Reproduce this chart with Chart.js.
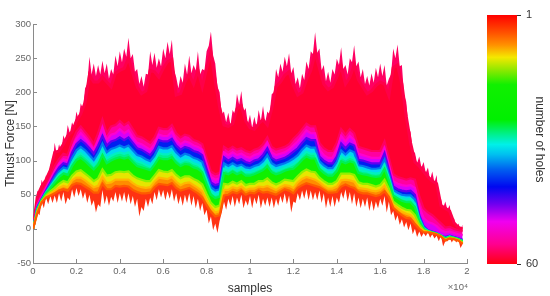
<!DOCTYPE html>
<html><head><meta charset="utf-8">
<script src="https://cdn.jsdelivr.net/npm/chart.js@4"></script>
<style>
html,body{margin:0;padding:0;background:#fff;width:550px;height:296px;overflow:hidden}
canvas{position:absolute;top:0;filter:blur(0.45px)}
#main{left:0}#bar{left:480px}
</style></head><body>
<canvas id="main" width="550" height="296"></canvas>
<canvas id="bar" width="70" height="296"></canvas>
<script>
const samples=[0,200,400,600,800,1000,1200,1400,1600,1800,2000,2200,2400,2600,2800,3000,3200,3400,3600,3800,4000,4200,4400,4600,4800,5000,5200,5400,5600,5800,6000,6200,6400,6600,6800,7000,7200,7400,7600,7800,8000,8200,8400,8600,8800,9000,9200,9400,9600,9800,10000,10200,10400,10600,10800,11000,11200,11400,11600,11800,12000,12200,12400,12600,12800,13000,13200,13400,13600,13800,14000,14200,14400,14600,14800,15000,15200,15400,15600,15800,16000,16200,16400,16600,16800,17000,17200,17400,17600,17800,18000,18200,18400,18600,18800,19000,19200,19400,19600,19800];
const redTop=[0,23,39,46,49,52,56,58,56,64,67,66,62,58,53,53,66,58,58,63,62,63,62,57,54,52,52,53,61,66,65,64,67,60,56,58,60,56,52,46,35,25,18,20,49,50,54,52,56,50,53,52,56,53,54,52,50,54,58,56,52,60,64,67,65,63,61,57,53,53,54,62,65,62,60,54,52,52,50,48,50,55,47,31,25,20,16,15,7,0,-5,-5,-6,-8,-11,-17,-14,-15,-17,-22];
const orangeTop=[0,25,40,47,52,56,60,63,61,71,75,75,71,66,61,63,76,67,68,72,72,72,72,67,63,61,60,61,69,75,74,73,76,69,64,67,68,64,60,55,42,31,24,26,57,57,61,59,62,57,59,59,62,61,63,60,57,61,64,63,60,68,73,76,74,72,68,63,59,59,62,71,72,71,69,60,59,58,56,55,57,63,52,35,30,25,22,20,13,2,-3,-5,-6,-8,-11,-16,-14,-15,-17,-21];
const yellowTop=[0,26,40,49,55,60,66,70,68,78,84,86,81,76,70,74,87,78,79,83,84,83,84,78,74,72,70,70,78,86,84,83,86,79,74,77,77,73,70,65,51,38,32,34,66,65,69,66,70,64,66,66,70,70,74,68,65,68,72,71,70,77,83,87,84,83,75,70,66,66,70,81,81,81,79,68,66,66,64,62,64,72,59,40,35,31,28,27,20,6,-2,-4,-6,-8,-11,-16,-13,-14,-16,-20];
const greenTop=[0,28,42,52,60,68,76,81,79,92,101,104,99,93,87,94,108,96,100,103,105,103,105,98,92,90,88,86,94,104,102,102,105,97,92,95,94,90,88,83,66,50,45,47,82,80,84,80,83,78,78,80,83,86,92,83,80,82,85,87,88,94,101,106,103,103,88,82,78,78,85,99,96,99,97,82,80,79,77,76,77,88,71,49,45,41,39,39,32,12,0,-4,-5,-7,-10,-14,-12,-13,-15,-18];
const springTop=[0,29,42,53,62,71,80,85,83,97,107,111,106,100,93,101,115,103,107,110,112,110,112,105,99,97,94,91,99,111,109,109,112,103,98,101,100,96,94,89,72,55,50,52,88,85,89,85,88,83,83,85,88,91,99,88,85,87,90,92,95,100,107,113,110,110,92,87,83,83,90,106,102,106,103,87,85,84,82,81,82,94,75,53,48,45,43,44,37,14,1,-3,-5,-7,-10,-14,-11,-13,-15,-18];
const cyanTop=[0,31,43,54,65,75,84,90,88,104,115,120,115,108,101,111,125,112,117,119,122,119,122,115,108,106,102,99,107,120,118,118,121,112,106,110,108,104,102,98,79,61,56,58,96,92,96,92,94,90,89,92,94,99,108,96,92,94,96,99,103,108,116,122,119,119,99,93,89,89,98,115,109,115,112,93,92,90,88,88,89,102,80,57,53,50,49,49,43,17,3,-3,-5,-7,-10,-13,-11,-13,-15,-17];
const blueTop=[0,32,44,56,68,80,90,96,94,112,124,130,125,118,110,122,136,122,128,130,134,130,134,126,118,116,112,108,116,130,128,128,132,122,116,120,118,114,112,108,88,68,64,66,105,100,104,100,102,98,96,100,102,108,118,104,100,102,104,108,113,118,126,133,130,130,106,100,96,96,106,125,118,125,122,101,100,98,96,96,96,111,87,62,58,56,55,56,50,20,4,-2,-4,-6,-10,-12,-10,-12,-14,-16];
const magentaTop=[0,35,48,60,72,85,95,102,100,118,132,140,133,125,116,130,148,130,138,140,146,140,144,134,126,124,120,116,124,138,136,136,142,130,124,128,126,122,120,116,96,76,72,74,112,108,112,108,110,106,104,108,110,116,126,112,108,110,112,116,122,128,136,144,140,140,116,108,104,104,116,136,128,136,130,110,108,106,104,104,104,118,94,70,66,64,63,64,60,32,16,10,8,4,-2,-5,-4,-6,-8,-9];
const pinkTop=[0,38,52,64,76,92,102,110,108,128,142,150,142,134,124,140,160,140,150,152,158,152,156,146,136,134,130,126,134,148,146,146,152,140,134,138,136,130,128,124,104,84,80,82,120,116,120,116,118,114,112,116,118,124,134,120,116,118,120,124,132,138,146,154,150,150,126,118,114,114,126,146,138,146,140,120,118,116,114,114,114,128,104,80,76,74,72,74,72,48,30,24,20,14,8,2,3,0,-2,-3];
const crimsonTop=[0,48,62,72,86,112,114,124,136,142,158,168,185,225,215,215,222,215,208,228,232,235,250,228,208,198,202,232,230,222,235,245,248,196,198,215,226,212,232,208,235,258,216,178,152,150,154,176,180,158,148,146,154,160,152,176,208,215,225,230,210,196,200,218,232,258,235,212,204,208,222,238,212,222,240,218,208,198,202,210,215,212,195,236,240,212,165,126,98,92,84,76,70,66,34,30,26,9,2,0];
// spiky outer edges, read every 100 samples
const spikeTop=[0,20,56,50,72,62,79,70,94,96,126,108,124,114,137,128,152,140,156,148,
172,160,184,176,206,212,252,226,242,224,240,226,246,228,242,220,234,226,254,238,
260,244,264,252,280,250,256,230,234,212,224,208,227,226,260,240,258,236,250,238,
264,250,274,256,277,232,222,206,224,214,242,226,254,228,240,232,260,226,234,232,
260,268,289,254,242,208,200,168,172,156,170,152,174,168,198,182,202,172,177,154,
167,148,164,150,174,158,180,156,172,168,197,200,234,222,242,230,252,238,257,228,
237,212,222,206,227,218,245,234,260,256,288,258,264,232,240,216,230,214,234,226,
249,240,266,234,240,226,250,244,269,238,245,222,234,212,224,210,228,214,236,222,
242,224,240,210,220,226,264,250,270,238,240,196,186,148,142,112,112,96,106,90,
98,82,90,72,84,68,79,44,44,30,40,28,35,12,16,2,8,0,6];
const spikeBottom=[0,6,24,20,40,30,46,36,48,38,49,38,52,40,54,36,46,42,58,46,
60,48,58,44,54,38,50,34,42,24,36,32,57,36,49,34,47,40,54,38,
52,40,54,38,52,36,48,32,44,18,32,26,44,32,46,36,54,42,58,46,
57,42,55,44,58,40,52,36,48,34,50,38,52,34,48,30,44,26,38,20,
28,8,18,-2,8,-6,12,24,40,28,44,34,48,32,46,36,50,30,42,34,
48,30,46,36,50,30,44,34,46,32,46,30,44,34,48,38,52,36,49,24,
40,38,52,42,56,44,58,42,56,42,54,42,56,38,52,30,46,32,48,32,
46,38,54,44,58,40,54,36,52,32,46,30,44,32,46,26,42,26,40,30,
44,34,48,24,40,20,26,12,20,6,14,2,10,-2,8,-8,0,-12,-4,-12,
-6,-11,-5,-13,-8,-14,-10,-18,-10,-26,-18,-18,-13,-20,-14,-20,-16,-28,-22];
const xTicks=[0,2000,4000,6000,8000,10000,12000,14000,16000,18000,20000];
const xTickLabels=['0','0.2','0.4','0.6','0.8','1','1.2','1.4','1.6','1.8','2'];
const yTicks=[-50,0,50,100,150,200,250,300];
const holeTicks=[1,60];

const fine=a=>a.map((v,k)=>({x:k*100,y:v}));
const coarse=a=>a.map((v,k)=>({x:samples[k],y:v}));
const bands=[
 {data:fine(spikeBottom),fill:false,borderWidth:0},
 {data:coarse(redTop),fill:'-1',backgroundColor:'#ff3212',borderColor:'#ff5a00'},
 {data:coarse(orangeTop),fill:'-1',backgroundColor:'#ff8c00',borderColor:'#ffb800'},
 {data:coarse(yellowTop),fill:'-1',backgroundColor:'#e6e600',borderColor:'#90f000'},
 {data:coarse(greenTop),fill:'-1',backgroundColor:'#10f000',borderColor:'#00f050'},
 {data:coarse(springTop),fill:'-1',backgroundColor:'#00f08c',borderColor:'#00f0c0'},
 {data:coarse(cyanTop),fill:'-1',backgroundColor:'#00d8f0',borderColor:'#0078f0'},
 {data:coarse(blueTop),fill:'-1',backgroundColor:'#0020f0',borderColor:'#6000f0'},
 {data:coarse(magentaTop),fill:'-1',backgroundColor:'#d800f8',borderColor:'#ff00d0'},
 {data:coarse(pinkTop),fill:'-1',backgroundColor:'#ff00a0',borderColor:'#ff0060'},
 {data:coarse(crimsonTop),fill:'-1',backgroundColor:'#ff0030',borderColor:'#ff0048',borderWidth:3},
 {data:fine(spikeTop),fill:'-1',backgroundColor:'#ff0062',borderWidth:0}
];
const inwardTicks={id:'inwardTicks',afterDraw(c){
 const g=c.ctx,a=c.chartArea;g.save();g.strokeStyle='#8a8a8a';g.lineWidth=1;g.beginPath();
 c.scales.x.ticks.forEach(t=>{const p=Math.round(c.scales.x.getPixelForValue(t.value))+.5;g.moveTo(p,a.bottom);g.lineTo(p,a.bottom-4);});
 c.scales.y.ticks.forEach(t=>{const p=Math.round(c.scales.y.getPixelForValue(t.value))+.5;g.moveTo(a.left,p);g.lineTo(a.left+4,p);});
 g.stroke();
 g.fillStyle='#666';g.font='9.5px "Liberation Sans"';g.textAlign='right';g.textBaseline='middle';
 g.fillText('×10⁴',468,287);g.restore();
}};
new Chart(document.getElementById('main'),{
 type:'line',
 data:{datasets:bands.map(b=>Object.assign({pointRadius:0,tension:0,borderWidth:2.2,borderColor:'rgba(0,0,0,0)'},b))},
 plugins:[inwardTicks],
 options:{responsive:false,animation:false,events:[],
  layout:{padding:{top:24,right:83,left:0,bottom:0}},
  plugins:{legend:{display:false},tooltip:{enabled:false}},
  scales:{
   x:{type:'linear',min:0,max:20000,afterBuildTicks(s){s.ticks=xTicks.map(v=>({value:v}));},afterFit(s){s.height=33;},
      grid:{display:false,drawTicks:false},border:{display:true,color:'#8a8a8a'},
      ticks:{autoSkip:false,maxRotation:0,padding:3,color:'#666',font:{family:'"Liberation Sans"',size:9.5},callback:v=>xTickLabels[xTicks.indexOf(v)]},
      title:{display:true,text:'samples',color:'#333',font:{family:'"Liberation Sans"',size:12},padding:{top:2,bottom:0}}},
   y:{min:-50,max:300,afterBuildTicks(s){s.ticks=yTicks.map(v=>({value:v}));},afterFit(s){s.width=33;},
      grid:{display:false,drawTicks:false},border:{display:true,color:'#8a8a8a'},
      ticks:{padding:2,color:'#666',font:{family:'"Liberation Sans"',size:9.5}},
      title:{display:true,text:'Thrust Force [N]',color:'#333',font:{family:'"Liberation Sans"',size:12},padding:{top:3,bottom:0}}}
  }}
});
const barStops=[[0,'#ff0000'],[.07,'#ff5000'],[.12,'#ff9000'],[.17,'#f4e800'],[.22,'#90e800'],[.28,'#10f000'],[.42,'#00f000'],[.48,'#00f090'],[.52,'#00f0e8'],[.56,'#00c0f0'],[.62,'#0060f0'],[.69,'#0008f0'],[.76,'#7000f0'],[.83,'#f000f0'],[.92,'#ff0090'],[1,'#ff0010']];
new Chart(document.getElementById('bar'),{
 type:'bar',
 data:{labels:['holes'],datasets:[{data:[holeTicks],barPercentage:1,categoryPercentage:1,backgroundColor(ctx){
   const a=ctx.chart.chartArea;if(!a)return '#f00';
   const g=ctx.chart.ctx.createLinearGradient(0,a.top,0,a.bottom);barStops.forEach(s=>g.addColorStop(s[0],s[1]));return g;}}]},
 options:{responsive:false,animation:false,events:[],
  layout:{padding:{top:15,bottom:32,left:7,right:0}},
  plugins:{legend:{display:false},tooltip:{enabled:false}},
  scales:{
   x:{display:false},
   y:{position:'right',reverse:true,min:1,max:60,afterBuildTicks(s){s.ticks=holeTicks.map(v=>({value:v}));},afterFit(s){s.width=33;},
      grid:{drawOnChartArea:false,drawTicks:true,tickLength:4,color:'#333'},border:{display:false},
      ticks:{padding:5,color:'#333',font:{family:'"Liberation Sans"',size:11}},
      title:{display:true,text:'number of holes',color:'#333',font:{family:'"Liberation Sans"',size:12},padding:{top:3,bottom:0}}}
  }}
});
</script></body></html>
